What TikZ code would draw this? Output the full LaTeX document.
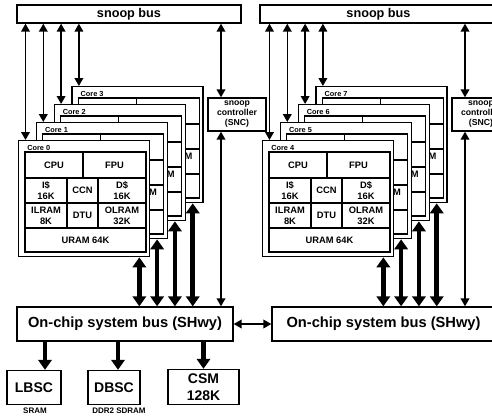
\documentclass[tikz,border=0pt]{standalone}
\usepackage{fontspec}
\setmainfont{Liberation Sans}
\usetikzlibrary{arrows.meta,calc}
\newcommand{\px}{0.75pt}
\tikzset{
  box/.style={draw, line width=1pt, fill=white, inner sep=0pt, align=center, font=\bfseries},
  cell/.style={draw, line width=0.8pt, inner sep=0pt, align=center, font=\bfseries\fontsize{7}{8}\selectfont},
  thinarr/.style={line width=1.2pt, {Triangle[width=6.5pt,length=6pt]}-{Triangle[width=6.5pt,length=6pt]}},
  thickarr/.style={line width=3.5pt, {Triangle[width=10pt,length=7.5pt]}-{Triangle[width=10pt,length=7.5pt]}},
  downarr/.style={line width=3.5pt, -{Triangle[width=10pt,length=7.5pt]}},
}
\newcommand{\coreblock}[3]% name, top left corner, number
{\begin{scope}[shift={(#2)}]
  \node[box, anchor=north west, minimum width=131*\px, minimum height=116*\px] (#1) at (0,0) {};
  \node[cell, minimum width=121*\px, minimum height=100*\px] (#1in) at (67.5,62) {};
  \node[cell, minimum width=58*\px, minimum height=26*\px] (#1cpu) at (36,25) {CPU};
  \node[cell, minimum width=63*\px, minimum height=26*\px] (#1fpu) at (96.5,25) {FPU};
  \node[cell, minimum width=42*\px, minimum height=25*\px] (#1ic) at (28,50.5) {I\$\\16K};
  \node[cell, minimum width=31*\px, minimum height=25*\px] (#1ccn) at (64.5,50.5) {CCN};
  \node[cell, minimum width=48*\px, minimum height=25*\px] (#1dc) at (104,50.5) {D\$\\16K};
  \node[cell, minimum width=42*\px, minimum height=25*\px] (#1il) at (28,75.5) {ILRAM\\8K};
  \node[cell, minimum width=31*\px, minimum height=25*\px] (#1dtu) at (64.5,75.5) {DTU};
  \node[cell, minimum width=48*\px, minimum height=25*\px] (#1ol) at (104,75.5) {OLRAM\\32K};
  \node[cell, minimum width=121*\px, minimum height=24*\px] (#1uram) at (67.5,100) {URAM 64K};
  \node[font=\bfseries\fontsize{5.5}{6}\selectfont, anchor=base west, inner sep=0pt] (#1lbl) at (9,10.5) {Core #3};
\end{scope}}

\begin{document}
\begin{tikzpicture}[x=0.75pt,y=-0.75pt]
\useasboundingbox (0,0) rectangle (492,415);
\clip (0,0) rectangle (492,415);

% buses
\node[box, minimum width=224*\px, minimum height=18*\px, font=\bfseries\fontsize{9.5}{11}\selectfont] (snoop0) at (129,14) {snoop bus};
\node[box, minimum width=237*\px, minimum height=18*\px, font=\bfseries\fontsize{9.5}{11}\selectfont] (snoop4) at (378.5,14) {snoop bus};
\node[box, minimum width=216*\px, minimum height=34*\px, font=\bfseries\fontsize{11}{13}\selectfont] (shwy0) at (125,324) {On-chip system bus (SHwy)};
\node[box, minimum width=223*\px, minimum height=34*\px, font=\bfseries\fontsize{11}{13}\selectfont] (shwy4) at (383.5,324) {On-chip system bus (SHwy)};
\draw[thinarr] (shwy0.east) -- (shwy4.west);

% two clusters of four cores
\foreach \dx/\cn in {0/0,244/4}{
  \foreach \i in {3,2,1,0}{
    \pgfmathtruncatemacro{\cnum}{\cn+\i}
    \coreblock{core\cnum}{18+17.8*\i+\dx,140-18*\i}{\cnum}
  }
  \foreach \i in {0,1,2,3}{
    \pgfmathtruncatemacro{\cnum}{\cn+\i}
    \path ($(core\cnum.north west)+(7.5,0)$) coordinate (up\cnum);
    \path ($(core\cnum.south east)+(-11,0)$) coordinate (dn\cnum);
    \draw[thinarr] (snoop\cn.south -| up\cnum) -- (up\cnum);
    \draw[thickarr] (dn\cnum) -- (dn\cnum |- shwy\cn.north);
  }
  \node[box, minimum width=58*\px, minimum height=33*\px, font=\bfseries\fontsize{6.5}{7.5}\selectfont] (snc\cn) at (237+\dx,114.5) {snoop\\controller\\(SNC)};
  \path ($(snc\cn.north)+(-16,0)$) coordinate (sn\cn);
  \draw[thinarr] (snoop\cn.south -| sn\cn) -- (sn\cn);
  \draw[thinarr] (snc\cn.south -| sn\cn) -- (sn\cn |- shwy\cn.north);
}

% memory controllers
\node[box, minimum width=54*\px, minimum height=34*\px, font=\bfseries\fontsize{10.5}{12.5}\selectfont] (lbsc) at (34,387.5) {LBSC};
\node[box, minimum width=52*\px, minimum height=34*\px, font=\bfseries\fontsize{10.5}{12.5}\selectfont] (dbsc) at (114,387.5) {DBSC};
\node[box, minimum width=71*\px, minimum height=35*\px, font=\bfseries\fontsize{10.5}{12.5}\selectfont] (csm) at (203.5,387) {CSM\\128K};
\draw[downarr] (shwy0.south -| 45,0) -- (lbsc.north -| 45,0);
\draw[downarr] (shwy0.south -| 118,0) -- (dbsc.north -| 118,0);
\draw[downarr] (shwy0.south -| csm.north) -- (csm.north);
\node[font=\bfseries\fontsize{6}{7}\selectfont, inner sep=0pt] (sram) at (35,411) {SRAM};
\node[font=\bfseries\fontsize{6}{7}\selectfont, inner sep=0pt] (ddr) at (119,411) {DDR2 SDRAM};
\end{tikzpicture}
\end{document}
